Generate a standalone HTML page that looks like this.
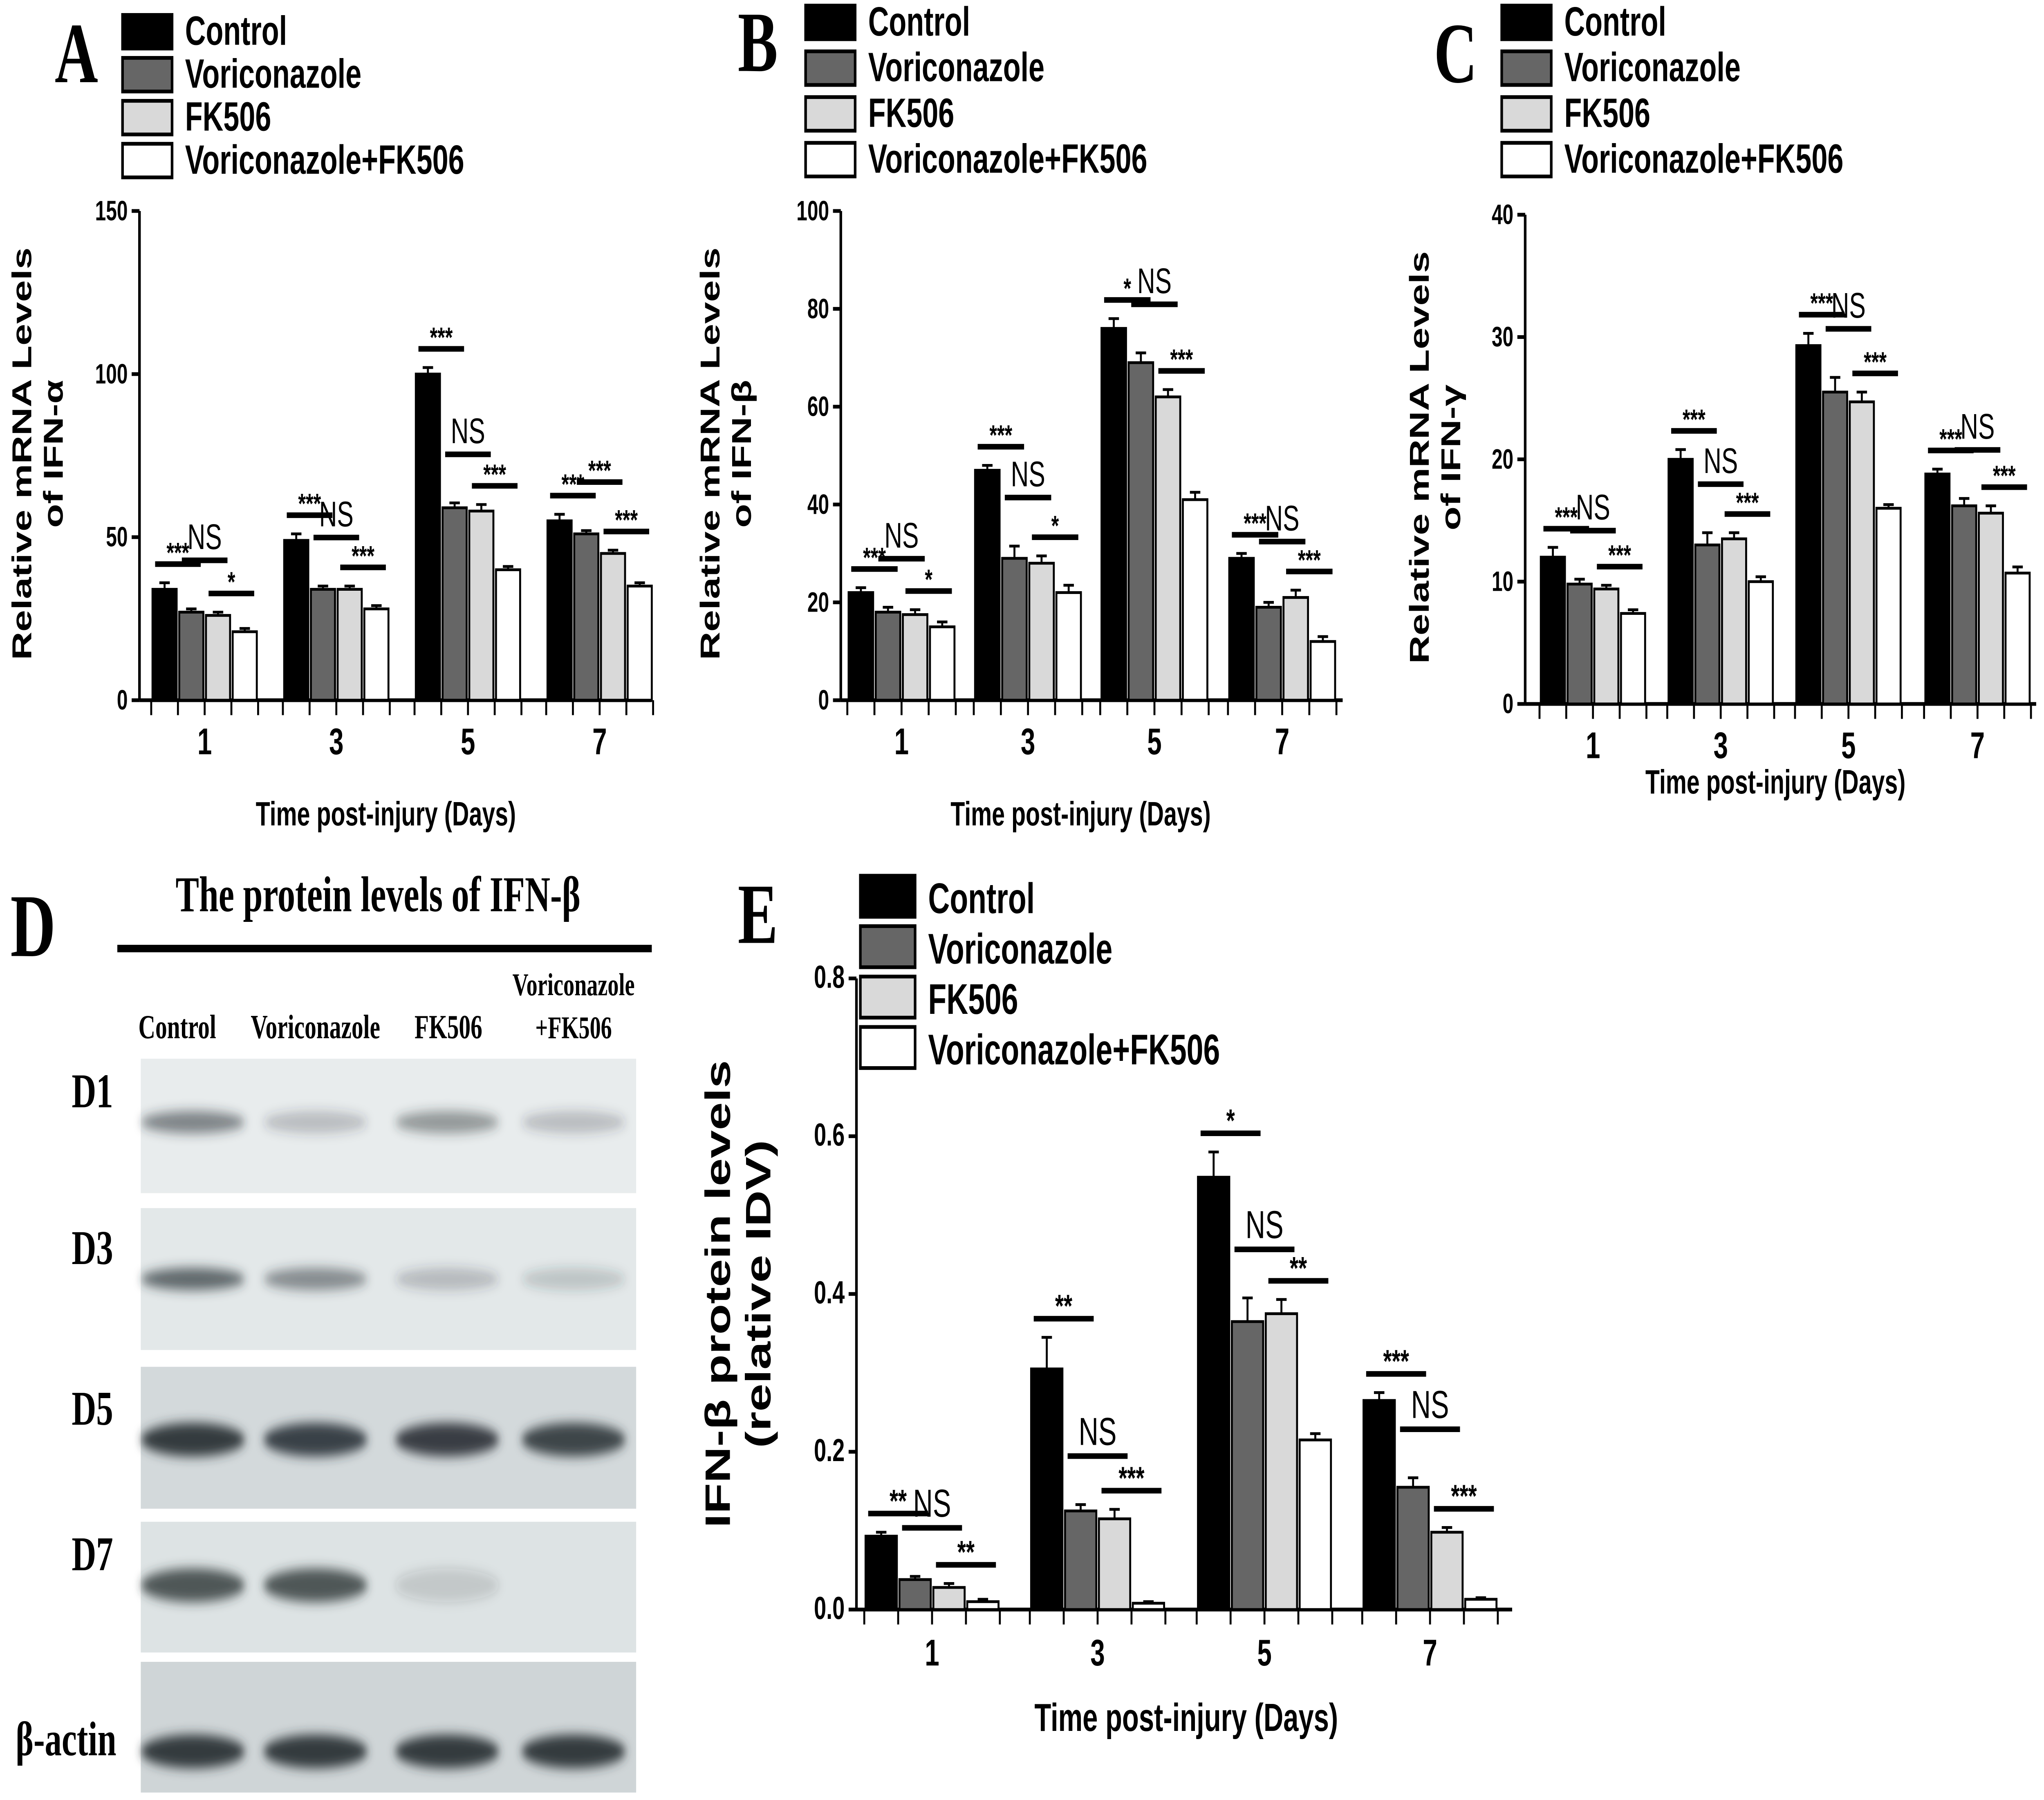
<!DOCTYPE html>
<html><head><meta charset="utf-8">
<style>
html,body{margin:0;padding:0;background:#fff;width:100%;height:100%;overflow:hidden;}
svg{display:block;position:fixed;left:0;top:0;width:100vw;height:100vh;}
text{font-family:"Liberation Sans",sans-serif;font-weight:bold;}
.serif{font-family:"Liberation Serif",serif;font-weight:bold;}
</style></head><body>
<svg id="fig" width="100%" height="100%" viewBox="0 0 1568 964" preserveAspectRatio="none" xmlns="http://www.w3.org/2000/svg">
<defs>
<filter id="blur" x="-20%" y="-100%" width="140%" height="300%"><feGaussianBlur stdDeviation="3"/></filter>
</defs>
<g id="charts"></g>
<g id="blot"></g>
</svg>
<script>
const series = ["Control","Voriconazole","FK506","Voriconazole+FK506"];
const fills = ["#000","#666","#d9d9d9","#fff"];
const days = ["1","3","5","7"];
const aVals = [[34,27,26,21],[49,34,34,28],[100,59,58,40],[55,51,45,35]];
const aErr = [[2,1,1,1],[2,1,1,1],[2,1.5,2,1],[2,1,1,1]];
const aSig = [["***","NS","*"],["***","NS","***"],["***","NS","***"],["***","***","***"]];
const aTicks = [0,50,100,150];
const bVals = [[22,18,17.5,15],[47,29,28,22],[76,69,62,41],[29,19,21,12]];
const bErr = [[1,1,1,1],[1,2.5,1.5,1.5],[2,2,1.5,1.5],[1,1,1.5,1]];
const bSig = [["***","NS","*"],["***","NS","*"],["*","NS","***"],["***","NS","***"]];
const bTicks = [0,20,40,60,80,100];
const cVals = [[12,9.8,9.4,7.4],[20,13,13.5,10],[29.3,25.5,24.7,16],[18.8,16.2,15.6,10.7]];
const cErr = [[0.8,0.4,0.3,0.3],[0.8,1,0.5,0.4],[1,1.2,0.8,0.3],[0.4,0.6,0.6,0.5]];
const cSig = [["***","NS","***"],["***","NS","***"],["***","NS","***"],["***","NS","***"]];
const cTicks = [0,10,20,30,40];
const eVals = [[0.093,0.038,0.028,0.01],[0.305,0.125,0.115,0.008],[0.548,0.365,0.375,0.215],[0.265,0.155,0.098,0.013]];
const eErr = [[0.005,0.004,0.005,0.003],[0.04,0.008,0.012,0.002],[0.032,0.03,0.018,0.008],[0.01,0.012,0.006,0.002]];
const eSig = [["**","NS","**"],["**","NS","***"],["*","NS","**"],["***","NS","***"]];
const eTicks = [0,0.2,0.4,0.6,0.8];
const eTickLabels = ["0.0","0.2","0.4","0.6","0.8"];

const NS="http://www.w3.org/2000/svg";
function mk(tag,attrs,parent,txt){const e=document.createElementNS(NS,tag);for(const k in attrs)e.setAttribute(k,attrs[k]);if(txt!==undefined)e.textContent=txt;parent.appendChild(e);return e;}
const root=document.getElementById('charts');

function chart(c){
  const g=mk('g',{},root);
  
  
  const ys=v=>c.y0-(v/c.max)*(c.y0-c.yTop);
  const ax=mk('line',{x1:c.ax,y1:c.yTop,x2:c.ax,y2:c.y0,stroke:'#000','stroke-width':2},g);
  
  const xa=mk('line',{x1:c.ax,y1:c.y0,x2:c.xEnd,y2:c.y0,stroke:'#000','stroke-width':2},g);
  
  c.ticks.forEach((t,i)=>{
    mk('line',{x1:c.ax-6,x2:c.ax,y1:ys(t),y2:ys(t),stroke:'#000','stroke-width':2},g);
    const tl=mk('text',{x:c.ax-9,y:ys(t)+5,'text-anchor':'end','font-size':c.tfs},g,c.tickLabels?c.tickLabels[i]:String(t));
    
  });
  c.vals.forEach((grp,gi)=>{
    const x0=c.gx[gi];
    for(let k=0;k<=4;k++){mk('line',{x1:x0+k*c.bw,x2:x0+k*c.bw,y1:c.y0,y2:c.y0+8,stroke:'#000','stroke-width':1.5},g);}
    grp.forEach((v,si)=>{
      const x=x0+si*c.bw;
      const r=mk('rect',{x:x+1,y:ys(v),width:c.bw-2,height:c.y0-ys(v),fill:fills[si],stroke:'#000','stroke-width':1.5},g);
      
      
      const e=c.err[gi][si];const xc=x+c.bw/2;
      mk('line',{x1:xc,x2:xc,y1:ys(v),y2:ys(v+e),stroke:'#000','stroke-width':1.5},g);
      mk('line',{x1:xc-4,x2:xc+4,y1:ys(v+e),y2:ys(v+e),stroke:'#000','stroke-width':1.5},g);
    });
    for(let k=0;k<3;k++){
      const m=Math.max(grp[k]+c.err[gi][k],grp[k+1]+c.err[gi][k+1]);
      let y=ys(m)-10-(k===1?16:0);
      const xa1=x0+k*c.bw+3, xa2=x0+(k+2)*c.bw-3;
      const sl=mk('line',{x1:xa1,x2:xa2,y1:y,y2:y,stroke:'#000','stroke-width':3},g);
      
      const isNS=c.sig[gi][k]==='NS';
      const st=mk('text',{x:(xa1+xa2)/2,y:isNS?y-6:y-1,'text-anchor':'middle','font-size':isNS?c.sfs+4:c.sfs},g,c.sig[gi][k]);
      if(isNS)st.style.fontWeight='normal';
      
    }
    const xl=mk('text',{x:x0+2*c.bw,y:c.y0+c.xlOff,'text-anchor':'middle','font-size':c.xfs},g,days[gi]);
    
  });
  const xt=mk('text',{x:c.xtX,y:c.xtY,'text-anchor':'middle','font-size':c.xtfs},g,'Time post-injury (Days)');
  
  const yt=mk('text',{x:0,y:0,'text-anchor':'middle','font-size':c.ytfs,transform:`translate(${c.ytX},${c.ytY}) rotate(-90)`},g);
  
  c.ytLines.forEach((l,i)=>{mk('tspan',{x:0,dy:i===0?0:c.ytfs*1.15},yt,l);});
  series.forEach((s,i)=>{
    const ly=c.lgY+i*c.lgStep;
    const lr=mk('rect',{x:c.lgX,y:ly,width:c.lgW,height:c.lgH,fill:fills[i],stroke:'#000','stroke-width':2},g);
    
    const lt=mk('text',{x:c.lgX+c.lgW+10,y:ly+c.lgH-2,'font-size':c.lgfs},g,s);
    
  });
  const pl=mk('text',{x:c.plX,y:c.plY,'font-size':46},g,c.letter);
  pl.setAttribute('class','serif');
  
}

chart({name:'chart-a-ifn-alpha',letter:'A',plX:42,plY:44,vals:aVals,err:aErr,sig:aSig,ticks:aTicks,max:150,ax:107,y0:375,yTop:113,xEnd:500,gx:[116,217,318,419],bw:20.5,tfs:15,sfs:15,xfs:20,xlOff:29,xtX:296,xtY:442,xtfs:18,ytX:24,ytY:243,ytfs:21,ytLines:['Relative mRNA Levels','of IFN-α'],lgX:94,lgY:8,lgStep:23,lgW:38,lgH:18,lgfs:22});
chart({name:'chart-b-ifn-beta',letter:'B',plX:566,plY:38,vals:bVals,err:bErr,sig:bSig,ticks:bTicks,max:100,ax:645,y0:375,yTop:113,xEnd:1030,gx:[650,747,844,942],bw:20.8,tfs:15,sfs:15,xfs:20,xlOff:29,xtX:829,xtY:442,xtfs:18,ytX:552,ytY:243,ytfs:21,ytLines:['Relative mRNA Levels','of IFN-β'],lgX:618,lgY:3,lgStep:24.5,lgW:38,lgH:18,lgfs:22});
chart({name:'chart-c-ifn-gamma',letter:'C',plX:1100,plY:44,vals:cVals,err:cErr,sig:cSig,ticks:cTicks,max:40,ax:1170,y0:377,yTop:115,xEnd:1562,gx:[1181,1279,1377,1476],bw:20.5,tfs:15,sfs:15,xfs:20,xlOff:29,xtX:1362,xtY:425,xtfs:18,ytX:1096,ytY:245,ytfs:21,ytLines:['Relative mRNA Levels','of IFN-γ'],lgX:1152,lgY:3,lgStep:24.5,lgW:38,lgH:18,lgfs:22});
chart({name:'chart-e-ifn-beta-protein',letter:'E',plX:566,plY:505,vals:eVals,err:eErr,sig:eSig,ticks:eTicks,tickLabels:eTickLabels,max:0.8,ax:657,y0:862,yTop:524,xEnd:1160,gx:[663,790,918,1045],bw:26,tfs:17,sfs:17,xfs:20,xlOff:30,xtX:910,xtY:927,xtfs:21,ytX:560,ytY:693,ytfs:27,ytLines:['IFN-β  protein levels','(relative IDV)'],lgX:660,lgY:469,lgStep:27,lgW:42,lgH:22,lgfs:23});

const blot=document.getElementById('blot');
const laneX=[148,242,343,440];
const rowLabels=["D1","D3","D5","D7","β-actin"];
const rowY=[567,647,732,815,890];
const rowH=[72,76,76,70,70];
const bgFill=["#e8eced","#e3e8e9","#d3d9db","#dde3e4","#cfd5d7"];
const bandI=[[0.55,0.25,0.45,0.25],[0.7,0.5,0.25,0.2],[0.95,0.9,0.92,0.88],[0.8,0.8,0.15,0.02],[0.95,0.95,0.95,0.95]];
const bandYOff=[34,38,39,34,48];
let t=mk('text',{x:8,y:512,'font-size':48,class:'serif'},blot,'D');

t=mk('text',{x:290,y:488,'font-size':27,'text-anchor':'middle',class:'serif'},blot,'The protein levels of IFN-β');

mk('line',{x1:90,x2:500,y1:508,y2:508,stroke:'#000','stroke-width':4},blot);
[[136,'Control'],[242,'Voriconazole'],[344,'FK506']].forEach(([x,s])=>{
  const e=mk('text',{x:x,y:556,'font-size':18,'text-anchor':'middle',class:'serif'},blot,s);
  
});
t=mk('text',{x:440,y:533,'font-size':17,'text-anchor':'middle',class:'serif'},blot,'Voriconazole');

t=mk('text',{x:440,y:556,'font-size':17,'text-anchor':'middle',class:'serif'},blot,'+FK506');

rowLabels.forEach((r,ri)=>{
  const bg=mk('rect',{x:108,y:rowY[ri],width:380,height:rowH[ri],fill:bgFill[ri]},blot);
  
  const l=mk('text',{x:ri===4?12:55,y:rowY[ri]+bandYOff[ri]-8+(ri===4?10:0),'font-size':26,class:'serif'},blot,r);
  
  laneX.forEach((x,li)=>{
    const a=bandI[ri][li];
    if(a<=0.03)return;
    const b=mk('ellipse',{cx:x,cy:rowY[ri]+bandYOff[ri],rx:40,ry:ri>=2?9:6,fill:'#2a3236','fill-opacity':a,filter:'url(#blur)'},blot);
    
  });
});
</script>
</body></html>
